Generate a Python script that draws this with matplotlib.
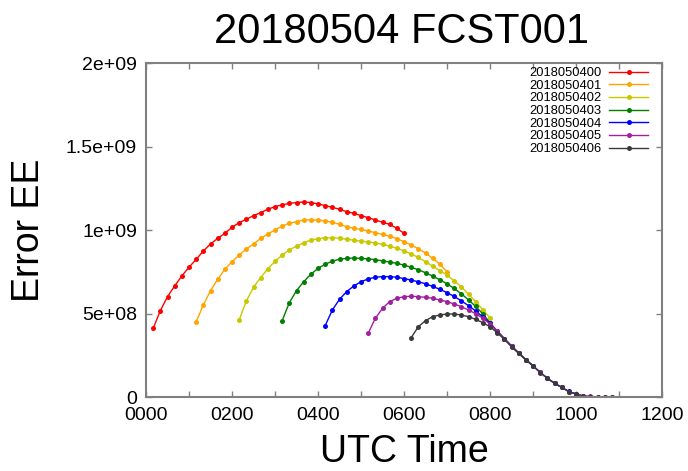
import numpy as np
import matplotlib
matplotlib.use("Agg")
import matplotlib.pyplot as plt
from matplotlib.ticker import MultipleLocator

plt.rcParams['font.family'] = ['Liberation Sans', 'DejaVu Sans']

# ---- data -------------------------------------------------------------
title = "20180504 FCST001"
x_label = "UTC Time"
y_label = "Error EE"
labels = ["2018050400", "2018050401", "2018050402", "2018050403",
          "2018050404", "2018050405", "2018050406"]
colors = ["#ff0000", "#ffa500", "#c8c800", "#007f00",
          "#0000ff", "#a020a0", "#3a3a3a"]

# first valid time of each series (x axis units: hour*100), 10-minute steps
start_times = [16.67, 116.67, 216.67, 316.67, 416.67, 516.67, 616.67]
step = 100.0 / 6.0

red = [4.11e8, 5.17e8, 6.01e8, 6.65e8, 7.25e8, 7.77e8, 8.24e8, 8.74e8, 9.16e8,
       9.50e8, 9.80e8, 1.016e9, 1.044e9, 1.064e9, 1.086e9, 1.104e9, 1.124e9,
       1.140e9, 1.150e9, 1.160e9, 1.164e9, 1.168e9, 1.164e9, 1.156e9, 1.146e9,
       1.136e9, 1.124e9, 1.110e9, 1.100e9, 1.086e9, 1.074e9, 1.060e9, 1.046e9,
       1.034e9, 1.010e9, 9.80e8]
orange = [4.51e8, 5.51e8, 6.37e8, 7.05e8, 7.65e8, 8.10e8, 8.50e8, 8.86e8, 9.16e8,
          9.50e8, 9.76e8, 1.000e9, 1.024e9, 1.040e9, 1.050e9, 1.060e9, 1.060e9,
          1.060e9, 1.054e9, 1.046e9, 1.034e9, 1.020e9, 1.010e9, 1.004e9, 9.94e8,
          9.84e8, 9.74e8, 9.62e8, 9.48e8, 9.30e8, 9.10e8, 8.88e8, 8.62e8, 8.30e8,
          7.95e8, 7.50e8]
yellow = [4.61e8, 5.75e8, 6.57e8, 7.15e8, 7.68e8, 8.12e8, 8.50e8, 8.80e8, 9.04e8,
          9.22e8, 9.40e8, 9.48e8, 9.53e8, 9.53e8, 9.51e8, 9.45e8, 9.39e8, 9.33e8,
          9.28e8, 9.22e8, 9.14e8, 9.04e8, 8.90e8, 8.76e8, 8.56e8, 8.36e8, 8.10e8,
          7.84e8, 7.56e8, 7.31e8, 6.95e8, 6.60e8, 6.15e8, 5.71e8, 5.21e8, 4.75e8]
green = [4.57e8, 5.65e8, 6.37e8, 6.90e8, 7.35e8, 7.70e8, 7.95e8, 8.13e8, 8.25e8,
         8.30e8, 8.32e8, 8.30e8, 8.27e8, 8.22e8, 8.15e8, 8.08e8, 8.00e8, 7.90e8,
         7.77e8, 7.62e8, 7.44e8, 7.24e8, 7.02e8, 6.78e8, 6.50e8, 6.18e8, 5.82e8,
         5.42e8, 4.98e8, 4.45e8, 3.92e8, 3.48e8, 3.05e8, 2.64e8, 2.24e8, 1.87e8]
blue = [4.27e8, 5.21e8, 5.85e8, 6.31e8, 6.65e8, 6.90e8, 7.07e8, 7.17e8, 7.21e8,
        7.21e8, 7.17e8, 7.09e8, 7.00e8, 6.90e8, 6.78e8, 6.62e8, 6.45e8, 6.25e8,
        6.02e8, 5.76e8, 5.47e8, 5.15e8, 4.80e8, 4.42e8, 3.94e8, 3.50e8, 3.06e8,
        2.64e8, 2.24e8, 1.87e8, 1.48e8, 1.13e8, 8.3e7, 5.8e7, 3.3e7, 1.8e7]
purple = [3.81e8, 4.71e8, 5.31e8, 5.71e8, 5.91e8, 6.01e8, 6.03e8, 6.01e8, 5.97e8,
          5.91e8, 5.81e8, 5.71e8, 5.57e8, 5.41e8, 5.21e8, 4.99e8, 4.71e8, 4.37e8,
          3.98e8, 3.50e8, 3.05e8, 2.63e8, 2.23e8, 1.87e8, 1.47e8, 1.12e8, 8.2e7,
          5.8e7, 3.2e7, 1.8e7, 7e6, 3e6, 1.5e6, 8e5, 4e5]
black = [3.55e8, 4.21e8, 4.57e8, 4.81e8, 4.91e8, 4.97e8, 4.97e8, 4.91e8, 4.81e8,
         4.65e8, 4.45e8, 4.21e8, 3.85e8, 3.45e8, 3.01e8, 2.61e8, 2.22e8, 1.86e8,
         1.46e8, 1.12e8, 8.2e7, 5.8e7, 3.2e7, 1.8e7, 6e6, 2e6, 1e6, 5e5, 2e5]
series = [red, orange, yellow, green, blue, purple, black]

x_ticks = [0, 200, 400, 600, 800, 1000, 1200]
x_tick_labels = ["0000", "0200", "0400", "0600", "0800", "1000", "1200"]
y_ticks = [0, 5e8, 1e9, 1.5e9, 2e9]
y_tick_labels = ["0", "5e+08", "1e+09", "1.5e+09", "2e+09"]

# ---- figure -----------------------------------------------------------
W, H = 688, 471
fig = plt.figure(figsize=(W / 100, H / 100), dpi=100)
ax = fig.add_axes([146 / W, 1 - 397 / H, (662 - 146) / W, (397 - 63) / H])

for vals, t0, c, lab in zip(series, start_times, colors, labels):
    xs = t0 + step * np.arange(len(vals))
    ax.plot(xs, vals, color=c, lw=1.0, marker='o', ms=3.6, mew=0,
            label=lab)

ax.set_xlim(0, 1200)
ax.set_ylim(0, 2e9)
ax.set_xticks(x_ticks)
ax.set_xticklabels(x_tick_labels)
ax.set_yticks(y_ticks)
ax.set_yticklabels(y_tick_labels)
ax.xaxis.set_minor_locator(MultipleLocator(100))

frame_col = "#808080"
for s in ax.spines.values():
    s.set_color(frame_col)
    s.set_linewidth(1.5)
ax.tick_params(which='both', direction='in', top=True, right=True,
               color=frame_col, width=1.0, length=4)
ax.tick_params(axis='x', which='major', labelsize=14, pad=7)
ax.tick_params(axis='y', which='major', labelsize=14, pad=6.5)

fig.text(402 / W, 1 - 32 / H, title, ha='center', va='center', fontsize=30)
fig.text(404 / W, 1 - 452 / H, x_label, ha='center', va='center', fontsize=27)
fig.text(29 / W, 1 - 230 / H, y_label, ha='center', va='center',
         fontsize=27, rotation=90)

leg = ax.legend(loc='upper right', bbox_to_anchor=(648 / W, 1 - 67 / H),
                bbox_transform=fig.transFigure, frameon=False, fontsize=9.3,
                markerfirst=False, handlelength=3.0, handletextpad=0.6,
                labelspacing=0.05, borderpad=0, borderaxespad=0)

fig.savefig("out.png", dpi=100)
